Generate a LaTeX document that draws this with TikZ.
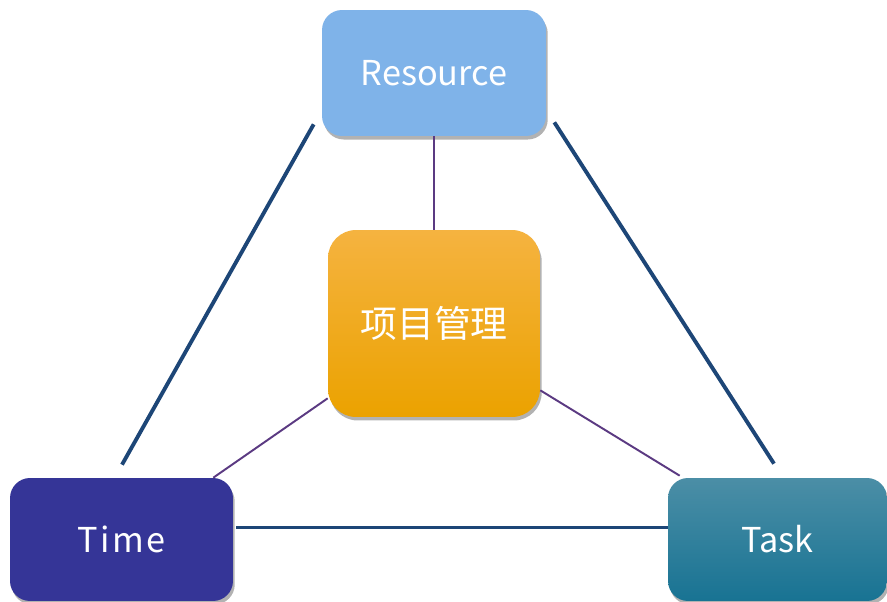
\documentclass[tikz,border=0pt]{standalone}
\usepackage{fontspec}
\setmainfont{Noto Sans CJK SC}
\usepackage{xcolor}
\usetikzlibrary{shadows}

\definecolor{resblue}{HTML}{7FB3E9}
\definecolor{coretop}{HTML}{F5B340}
\definecolor{coremid}{HTML}{F7AE05}
\definecolor{corebot}{HTML}{EBA200}
\definecolor{timeblue}{HTML}{353597}
\definecolor{tasktop}{HTML}{4B8EA6}
\definecolor{taskbot}{HTML}{187393}
\definecolor{sideblue}{HTML}{1D4677}
\definecolor{spoke}{HTML}{5B3A82}

\begin{document}
\begin{tikzpicture}[x=0.02cm,y=-0.02cm]
    \useasboundingbox[fill=white] (0,0) rectangle (887,602);
    \begin{scope}[every node/.style={rectangle,rounded corners=0.4cm,inner sep=0pt,
            text=white,font=\fontsize{19.5}{22}\selectfont,
            drop shadow={shadow xshift=1pt,shadow yshift=-2pt,opacity=.3,fill=black}}]
        \node[fill=resblue,minimum width=4.48cm,minimum height=2.52cm] (res) at (434,73) {Resource};
        \node[top color=coretop,middle color=coremid,bottom color=corebot,rounded corners=0.56cm,
            minimum width=4.24cm,minimum height=3.74cm,font=\fontsize{21}{24}\selectfont] (core) at (434,323.5) {项目管理};
        \node[fill=timeblue,minimum width=4.46cm,minimum height=2.46cm] (time) at (121.5,539.5) {\addfontfeature{LetterSpace=8}Time};
        \node[top color=tasktop,bottom color=taskbot,minimum width=4.38cm,minimum height=2.46cm] (task) at (777.5,539.5) {Task};
    \end{scope}
    \begin{scope}[every path/.style={draw=sideblue,line width=2.2pt}]
        \path ([shift={(-8,-12)}]res.south west) edge ([shift={(0.5,-13)}]time.north);
        \path ([shift={(8,-14)}]res.south east) edge ([shift={(-3.5,-14)}]task.north);
        \path ([shift={(3,-12)}]time.east) edge ([shift={(0,-12)}]task.west);
    \end{scope}
    \begin{scope}[every path/.style={draw=spoke,line width=1.1pt}]
        \path (res.south) edge (core.north);
        \path ([shift={(0,-19)}]core.south west) edge ([shift={(-20,0)}]time.north east);
        \path ([shift={(0,-27)}]core.south east) edge ([shift={(12,-2)}]task.north west);
    \end{scope}
\end{tikzpicture}
\end{document}
